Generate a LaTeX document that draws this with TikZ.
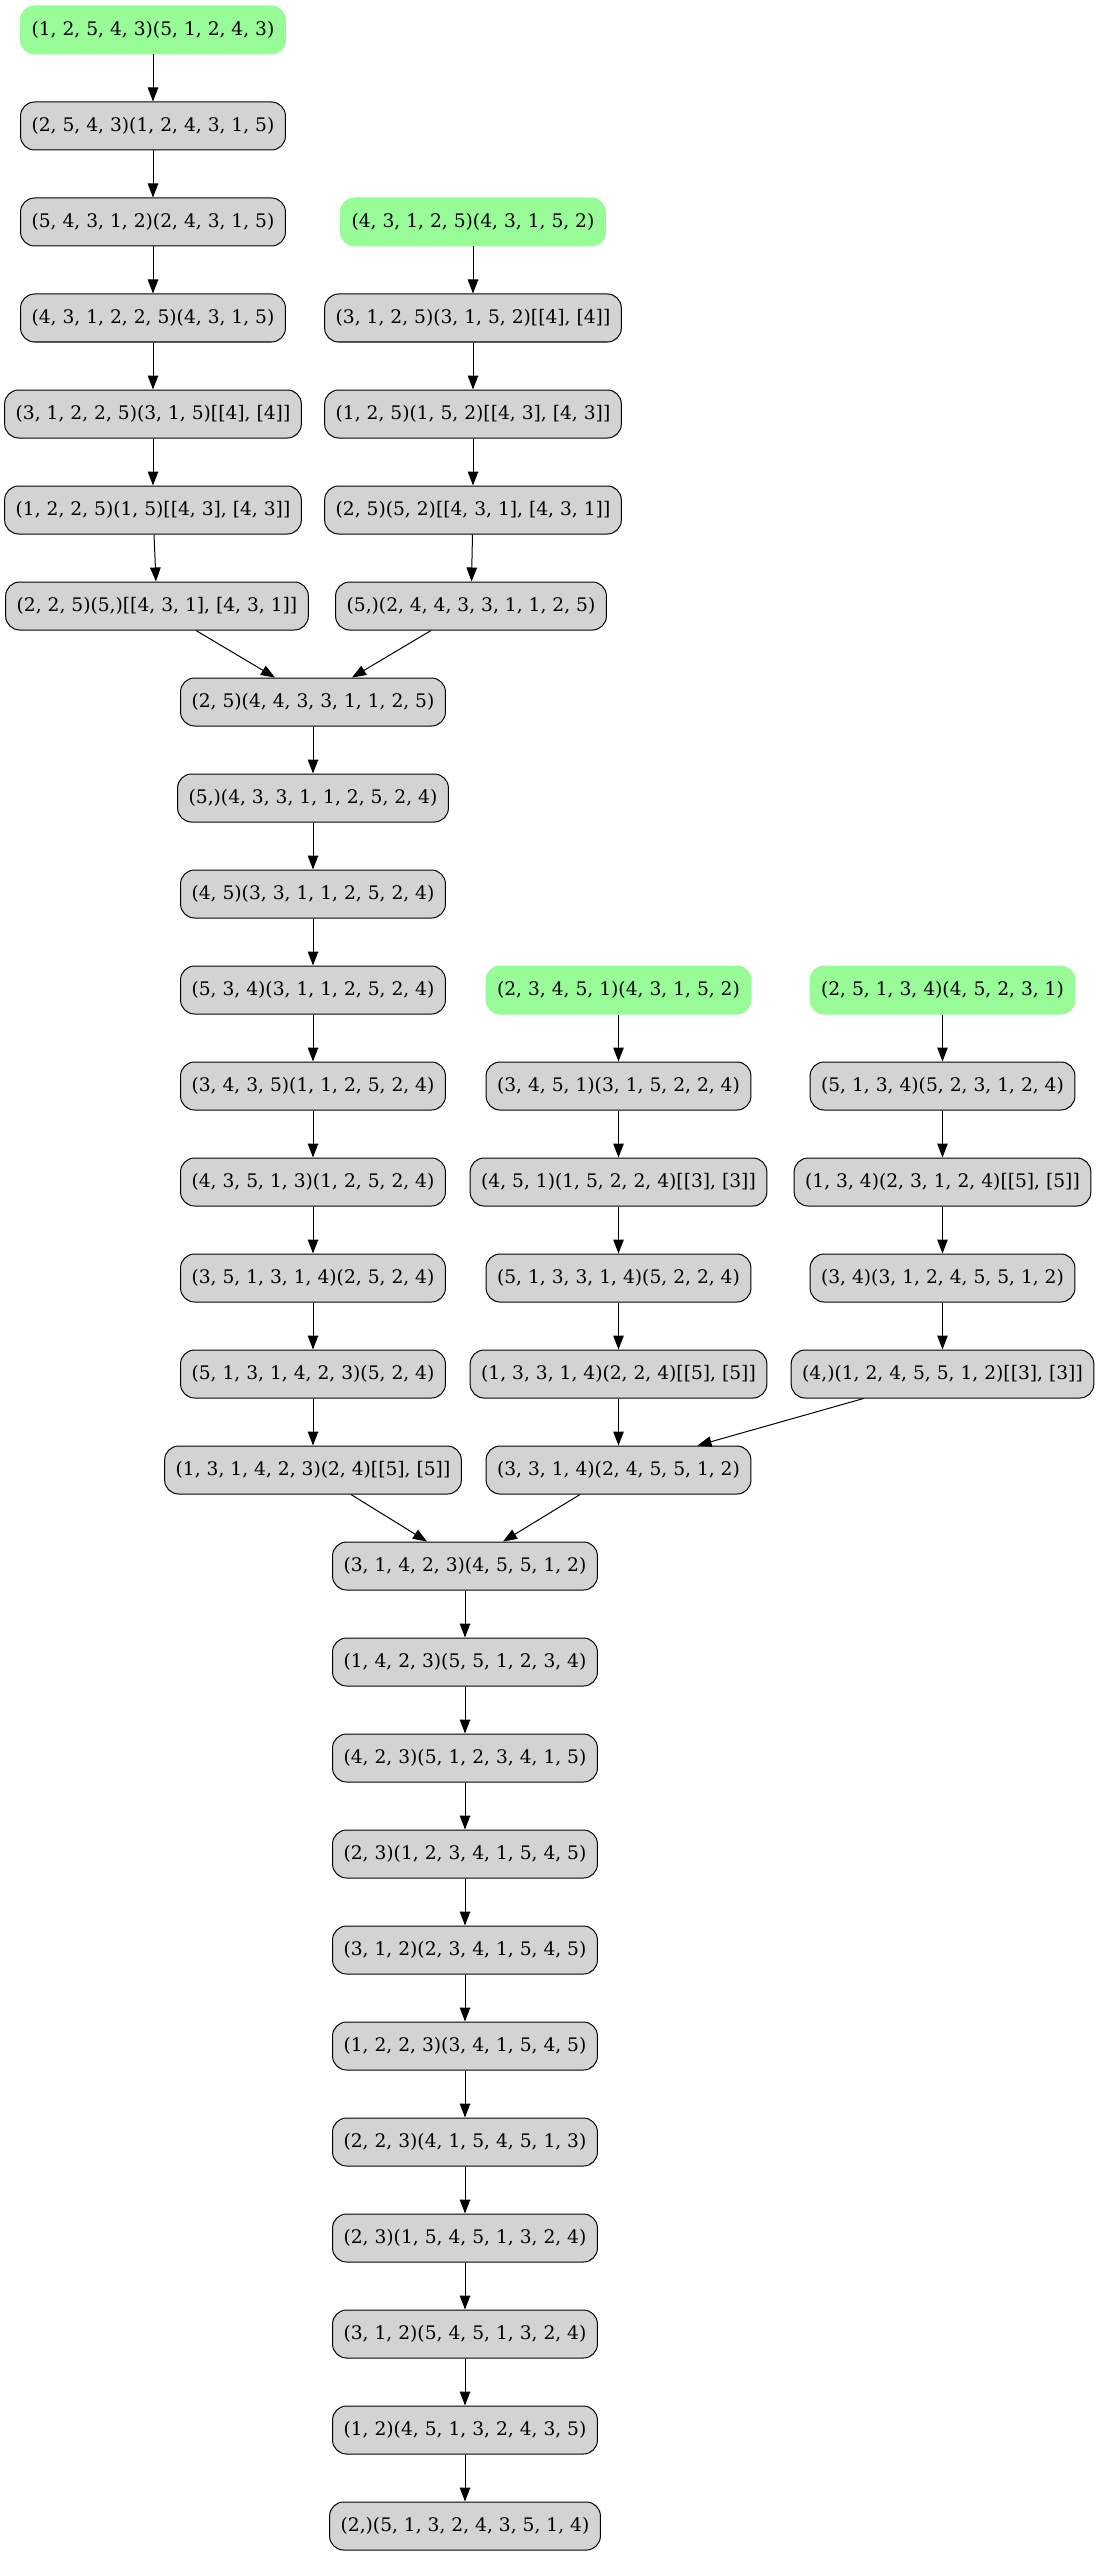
\documentclass[tikz,border=0pt]{standalone}
\usepackage{fontspec}
\setmainfont{DejaVu Serif}
\usetikzlibrary{arrows.meta,calc}
\definecolor{ggreen}{HTML}{98FB98}
\definecolor{ggray}{HTML}{D3D3D3}
\begin{document}
\begin{tikzpicture}[x=1pt,y=-1pt,
  box/.style={rounded corners=14pt, minimum height=48pt, inner xsep=11pt, inner ysep=0pt,
    font=\fontsize{18.67}{22}\selectfont, line width=1pt},
  grnode/.style={box, draw=black, fill=ggray},
  stnode/.style={box, draw=ggreen, fill=ggreen},
  edge/.style={-{Triangle[length=14pt,width=10.5pt]}, line width=1pt},
]
\useasboundingbox (0,0) rectangle (1099,2555);
% column A
\node[stnode] (A1) at (153,30) {(1, 2, 5, 4, 3)(5, 1, 2, 4, 3)};
\node[grnode] (A2) at (153,126) {(2, 5, 4, 3)(1, 2, 4, 3, 1, 5)};
\node[grnode] (A3) at (153,222) {(5, 4, 3, 1, 2)(2, 4, 3, 1, 5)};
\node[grnode] (A4) at (153,318) {(4, 3, 1, 2, 2, 5)(4, 3, 1, 5)};
\node[grnode] (A5) at (153,414) {(3, 1, 2, 2, 5)(3, 1, 5)[[4], [4]]};
\node[grnode] (A6) at (153,510) {(1, 2, 2, 5)(1, 5)[[4, 3], [4, 3]]};
\node[grnode] (A7) at (157,606) {(2, 2, 5)(5,)[[4, 3, 1], [4, 3, 1]]};
% column B
\node[stnode] (B1) at (473,222) {(4, 3, 1, 2, 5)(4, 3, 1, 5, 2)};
\node[grnode] (B2) at (473,318) {(3, 1, 2, 5)(3, 1, 5, 2)[[4], [4]]};
\node[grnode] (B3) at (473,414) {(1, 2, 5)(1, 5, 2)[[4, 3], [4, 3]]};
\node[grnode] (B4) at (473,510) {(2, 5)(5, 2)[[4, 3, 1], [4, 3, 1]]};
\node[grnode] (B5) at (471,606) {(5,)(2, 4, 4, 3, 3, 1, 1, 2, 5)};
% column C
\node[grnode] (C1) at (313,702) {(2, 5)(4, 4, 3, 3, 1, 1, 2, 5)};
\node[grnode] (C2) at (313,798) {(5,)(4, 3, 3, 1, 1, 2, 5, 2, 4)};
\node[grnode] (C3) at (313,894) {(4, 5)(3, 3, 1, 1, 2, 5, 2, 4)};
\node[grnode] (C4) at (313,990) {(5, 3, 4)(3, 1, 1, 2, 5, 2, 4)};
\node[grnode] (C5) at (313,1086) {(3, 4, 3, 5)(1, 1, 2, 5, 2, 4)};
\node[grnode] (C6) at (313,1182) {(4, 3, 5, 1, 3)(1, 2, 5, 2, 4)};
\node[grnode] (C7) at (313,1278) {(3, 5, 1, 3, 1, 4)(2, 5, 2, 4)};
\node[grnode] (C8) at (313,1374) {(5, 1, 3, 1, 4, 2, 3)(5, 2, 4)};
\node[grnode] (C9) at (313,1470) {(1, 3, 1, 4, 2, 3)(2, 4)[[5], [5]]};
% column D
\node[stnode] (D1) at (618.5,990) {(2, 3, 4, 5, 1)(4, 3, 1, 5, 2)};
\node[grnode] (D2) at (618.5,1086) {(3, 4, 5, 1)(3, 1, 5, 2, 2, 4)};
\node[grnode] (D3) at (618.5,1182) {(4, 5, 1)(1, 5, 2, 2, 4)[[3], [3]]};
\node[grnode] (D4) at (618.5,1278) {(5, 1, 3, 3, 1, 4)(5, 2, 2, 4)};
\node[grnode] (D5) at (618.5,1374) {(1, 3, 3, 1, 4)(2, 2, 4)[[5], [5]]};
\node[grnode] (D6) at (618.5,1470) {(3, 3, 1, 4)(2, 4, 5, 5, 1, 2)};
% column E
\node[stnode] (E1) at (942.5,990) {(2, 5, 1, 3, 4)(4, 5, 2, 3, 1)};
\node[grnode] (E2) at (942.5,1086) {(5, 1, 3, 4)(5, 2, 3, 1, 2, 4)};
\node[grnode] (E3) at (942.5,1182) {(1, 3, 4)(2, 3, 1, 2, 4)[[5], [5]]};
\node[grnode] (E4) at (942.5,1278) {(3, 4)(3, 1, 2, 4, 5, 5, 1, 2)};
\node[grnode] (E5) at (942.5,1374) {(4,)(1, 2, 4, 5, 5, 1, 2)[[3], [3]]};
% column F
\node[grnode] (F1) at (465,1566) {(3, 1, 4, 2, 3)(4, 5, 5, 1, 2)};
\node[grnode] (F2) at (465,1662) {(1, 4, 2, 3)(5, 5, 1, 2, 3, 4)};
\node[grnode] (F3) at (465,1758) {(4, 2, 3)(5, 1, 2, 3, 4, 1, 5)};
\node[grnode] (F4) at (465,1854) {(2, 3)(1, 2, 3, 4, 1, 5, 4, 5)};
\node[grnode] (F5) at (465,1950) {(3, 1, 2)(2, 3, 4, 1, 5, 4, 5)};
\node[grnode] (F6) at (465,2046) {(1, 2, 2, 3)(3, 4, 1, 5, 4, 5)};
\node[grnode] (F7) at (465,2142) {(2, 2, 3)(4, 1, 5, 4, 5, 1, 3)};
\node[grnode] (F8) at (465,2238) {(2, 3)(1, 5, 4, 5, 1, 3, 2, 4)};
\node[grnode] (F9) at (465,2334) {(3, 1, 2)(5, 4, 5, 1, 3, 2, 4)};
\node[grnode] (F10) at (465,2430) {(1, 2)(4, 5, 1, 3, 2, 4, 3, 5)};
\node[grnode] (F11) at (465,2526) {(2,)(5, 1, 3, 2, 4, 3, 5, 1, 4)};
% edges
\draw[edge] (A1) -- (A2);
\draw[edge] (A2) -- (A3);
\draw[edge] (A3) -- (A4);
\draw[edge] (A4) -- (A5);
\draw[edge] (A5) -- (A6);
\draw[edge] (A6) -- (A7);
\draw[edge] (B1) -- (B2);
\draw[edge] (B2) -- (B3);
\draw[edge] (B3) -- (B4);
\draw[edge] (B4) -- (B5);
\draw[edge] ($(A7.south)+(39,0)$) -- ($(C1.north)+(-38,0)$);
\draw[edge] ($(B5.south)+(-40,0)$) -- ($(C1.north)+(39,0)$);
\draw[edge] (C1) -- (C2);
\draw[edge] (C2) -- (C3);
\draw[edge] (C3) -- (C4);
\draw[edge] (C4) -- (C5);
\draw[edge] (C5) -- (C6);
\draw[edge] (C6) -- (C7);
\draw[edge] (C7) -- (C8);
\draw[edge] (C8) -- (C9);
\draw[edge] (D1) -- (D2);
\draw[edge] (D2) -- (D3);
\draw[edge] (D3) -- (D4);
\draw[edge] (D4) -- (D5);
\draw[edge] (D5) -- (D6);
\draw[edge] (E1) -- (E2);
\draw[edge] (E2) -- (E3);
\draw[edge] (E3) -- (E4);
\draw[edge] (E4) -- (E5);
\draw[edge] ($(E5.south)+(-79,0)$) -- ($(D6.north)+(79,0)$);
\draw[edge] ($(C9.south)+(38,0)$) -- ($(F1.north)+(-38,0)$);
\draw[edge] ($(D6.south)+(-38.5,0)$) -- ($(F1.north)+(38,0)$);
\draw[edge] (F1) -- (F2);
\draw[edge] (F2) -- (F3);
\draw[edge] (F3) -- (F4);
\draw[edge] (F4) -- (F5);
\draw[edge] (F5) -- (F6);
\draw[edge] (F6) -- (F7);
\draw[edge] (F7) -- (F8);
\draw[edge] (F8) -- (F9);
\draw[edge] (F9) -- (F10);
\draw[edge] (F10) -- (F11);
\end{tikzpicture}
\end{document}
